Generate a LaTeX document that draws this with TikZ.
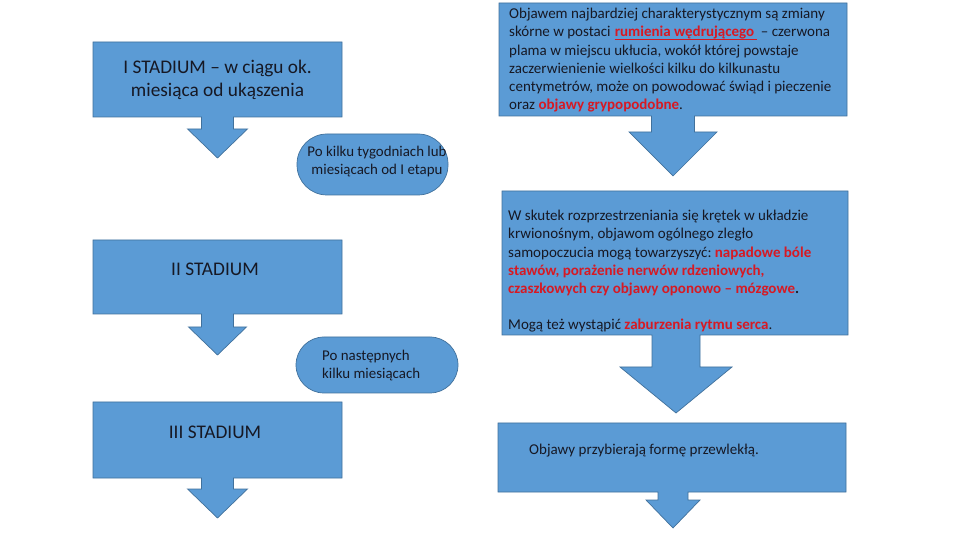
\documentclass[tikz,border=0pt]{standalone}
\usepackage{fontspec}
\setmainfont{Carlito}
\frenchspacing
\definecolor{boxblue}{RGB}{91,155,213}
\definecolor{boxline}{RGB}{65,113,156}
\definecolor{txt}{RGB}{22,24,36}
\definecolor{hl}{RGB}{215,25,35}
% #1 x1, #2 y1, #3 x2, #4 y2, #5 cx, #6 stem half width, #7 stem end y, #8 head half width, #9 tip y
\newcommand\arrowcallout[9]{%
  \path[callout] (#1,#2) -- (#3,#2) -- (#3,#4) -- ({#5+#6},#4) -- ({#5+#6},#7)
    -- ({#5+#8},#7) -- (#5,#9) -- ({#5-#8},#7) -- ({#5-#6},#7) -- ({#5-#6},#4)
    -- (#1,#4) -- cycle;}
\newcommand\red[1]{\textcolor{hl}{\textbf{#1}}}
\newcommand\redul[1]{\tikz[baseline=(u.base)]{\node[inner sep=0pt,text=hl,font=\bfseries] (u) {#1};
  \draw[hl,line width=1pt] ([yshift=-2.2pt]u.base west) -- ([yshift=-2.2pt,xshift=3pt]u.base east);}\hspace{3pt}}
\begin{document}
\begin{tikzpicture}[x=1pt,y=-1pt,
  callout/.style={fill=boxblue,draw=boxline,line width=0.7pt,line join=miter},
  pill/.style={fill=boxblue,draw=boxline,line width=0.7pt},
  bigtxt/.style={text=txt,font=\fontsize{19.3}{22.5}\selectfont,align=center,inner sep=0pt},
  pilltxt/.style={text=txt,font=\fontsize{14.9}{18}\selectfont,inner sep=0pt},
  bodytxt/.style={text=txt,font=\fontsize{15}{18.2}\selectfont,align=left,inner sep=0pt,anchor=north west}]
\useasboundingbox (0,0) rectangle (954,553);
\fill[white] (0,0) rectangle (954,553);
% left column
\arrowcallout{93}{42}{342}{117}{217.5}{16}{129}{30}{158}
\arrowcallout{93}{240}{342}{314}{217.5}{16}{327}{29}{355}
\arrowcallout{93}{402}{342}{478}{217.5}{16}{489}{30}{518}
\node[bigtxt] (s1) at (217.5,80) {I STADIUM – w ciągu ok.\\miesiąca od ukąszenia};
\node[bigtxt] (s2) at (215,269) {II STADIUM};
\node[bigtxt] (s3) at (215,432) {III STADIUM};
% pills
\path[pill,rounded corners=30pt] (297,134) rectangle (448,195);
\path[pill,rounded corners=28pt] (296,337) rectangle (458,393);
\node[pilltxt,align=center] (p1) at (377,162) {Po kilku tygodniach lub\\miesiącach od I etapu};
\node[pilltxt,align=left,anchor=west] (p2) at (322,366) {Po następnych\\kilku miesiącach};
% right column
\arrowcallout{499}{3}{847}{116}{673}{21.5}{132}{44}{176}
\arrowcallout{502}{191}{848}{335}{676}{24}{367}{56}{413}
\arrowcallout{498}{423}{846}{492}{673}{15}{500}{27}{528}
\node[bodytxt] (r1) at (509,8) {Objawem najbardziej charakterystycznym są zmiany\\
skórne w postaci \redul{rumienia wędrującego}– czerwona\\
plama w miejscu ukłucia, wokół której powstaje\\
zaczerwienienie wielkości kilku do kilkunastu\\
centymetrów, może on powodować świąd i pieczenie\\
oraz \red{objawy grypopodobne}.};
\node[bodytxt] (r2) at (508,210) {W skutek rozprzestrzeniania się krętek w układzie\\
krwionośnym, objawom ogólnego zległo\\
samopoczucia mogą towarzyszyć: \red{napadowe bóle}\\
\red{stawów, porażenie nerwów rdzeniowych,}\\
\red{czaszkowych czy objawy oponowo – mózgowe}\textbf{.}\\[18.2pt]
Mogą też wystąpić \red{zaburzenia rytmu serca}.};
\node[bodytxt,anchor=base west] (r3) at (529,455) {Objawy przybierają formę przewlekłą.};
\end{tikzpicture}
\end{document}
